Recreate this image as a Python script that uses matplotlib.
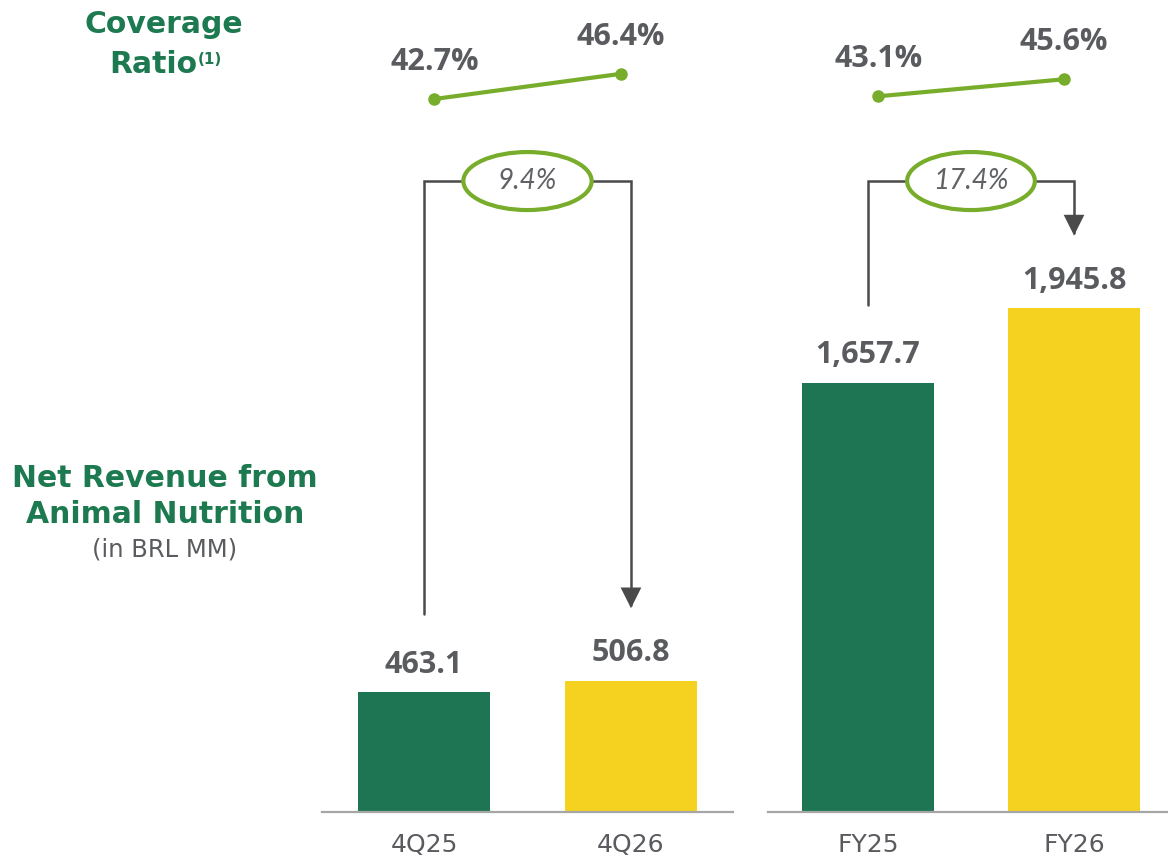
import matplotlib.pyplot as plt
from matplotlib.patches import Ellipse, FancyArrowPatch
from matplotlib.path import Path

periods = [["4Q25", "4Q26"], ["FY25", "FY26"]]
revenue = [[463.1, 506.8], [1657.7, 1945.8]]
coverage = [[42.7, 46.4], [43.1, 45.6]]

GREEN = "#1e7553"
YELLOW = "#f5d21f"
LIME = "#78ad2b"
GRAY = "#595b5e"
DARK = "#4a4a4a"
TITLE = "#1d7a50"
NUM_FONT = ["Open Sans", "DejaVu Sans"]

W, H = 1168, 858
fig = plt.figure(figsize=(W / 100, H / 100), dpi=100)


def px_axes(x0, x1, y_top, y_bot):
    return fig.add_axes([x0 / W, 1 - y_bot / H, (x1 - x0) / W, (y_bot - y_top) / H])


# pixel extents of each panel and matching x limits
panels = [(322, 733, (-0.493, 1.493)), (768, 1168, (-0.485, 1.456))]

for (x0, x1, xlim), labels, vals, cov in zip(panels, periods, revenue, coverage):
    ax = px_axes(x0, x1, 0, 812)
    ax.set_xlim(*xlim)
    ax.set_ylim(0, 3135)
    ax.bar([0, 1], vals, width=0.638, color=[GREEN, YELLOW], zorder=2)
    for i, v in enumerate(vals):
        ax.annotate(f"{v:,.1f}", (i, v), xytext=(0, 14), textcoords="offset points",
                    ha="center", va="baseline", fontsize=22, fontweight="bold",
                    color=GRAY, family=NUM_FONT)
    ax.set_xticks([0, 1], labels)
    ax.tick_params(axis="x", length=0, pad=15, labelsize=18, labelcolor=GRAY)
    ax.set_yticks([])
    for s in ["top", "left", "right"]:
        ax.spines[s].set_visible(False)
    ax.spines["bottom"].set_color("#a6a6a6")
    ax.spines["bottom"].set_linewidth(1.6)

    # growth bracket
    top = 2436
    start = vals[0] + 300
    tip = vals[1] + 280
    bracket = Path([(0, start), (0, top), (1, top), (1, tip)])
    ax.add_patch(FancyArrowPatch(path=bracket,
                                 arrowstyle="-|>,head_length=0.6,head_width=0.3",
                                 mutation_scale=20, color=DARK, lw=1.8,
                                 joinstyle="miter", zorder=3))
    ax.add_patch(Ellipse((0.5, top), 0.62, 224, facecolor="white",
                         edgecolor=LIME, lw=3, zorder=4))
    growth = (vals[1] / vals[0] - 1) * 100
    ax.text(0.5, top, f"{growth:.1f}%", ha="center", va="center", fontsize=20,
            color="#606266", family=["Lato", "DejaVu Sans"], fontweight="normal",
            style="italic", zorder=5)

    # coverage ratio line
    ax2 = ax.twinx()
    ax2.set_ylim(-62.15, 57.26)
    ax2.axis("off")
    xs = [0.05, 0.95]
    ax2.plot(xs, cov, color=LIME, lw=3, marker="o", markersize=8, zorder=3)
    for x, c in zip(xs, cov):
        ax2.annotate(f"{c:.1f}%", (x, c), xytext=(0, 21), textcoords="offset points",
                     ha="center", va="baseline", fontsize=22, fontweight="bold",
                     color=GRAY, family=NUM_FONT)

# side titles
fig.text(164 / W, 1 - 33 / H, "Coverage", ha="center", va="baseline",
         fontsize=21.5, fontweight="bold", color=TITLE)
fig.text(197 / W, 1 - 73 / H, "Ratio", ha="right", va="baseline",
         fontsize=21.5, fontweight="bold", color=TITLE)
fig.text(198 / W, 1 - 64 / H, "(1)", ha="left", va="baseline",
         fontsize=11, fontweight="bold", color=TITLE)
fig.text(165 / W, 1 - 487 / H, "Net Revenue from", ha="center", va="baseline",
         fontsize=21.5, fontweight="bold", color=TITLE)
fig.text(165 / W, 1 - 523 / H, "Animal Nutrition", ha="center", va="baseline",
         fontsize=21.5, fontweight="bold", color=TITLE)
fig.text(165 / W, 1 - 556 / H, "(in BRL MM)", ha="center", va="baseline",
         fontsize=17.5, color=GRAY)

fig.savefig("out.png", dpi=100)
